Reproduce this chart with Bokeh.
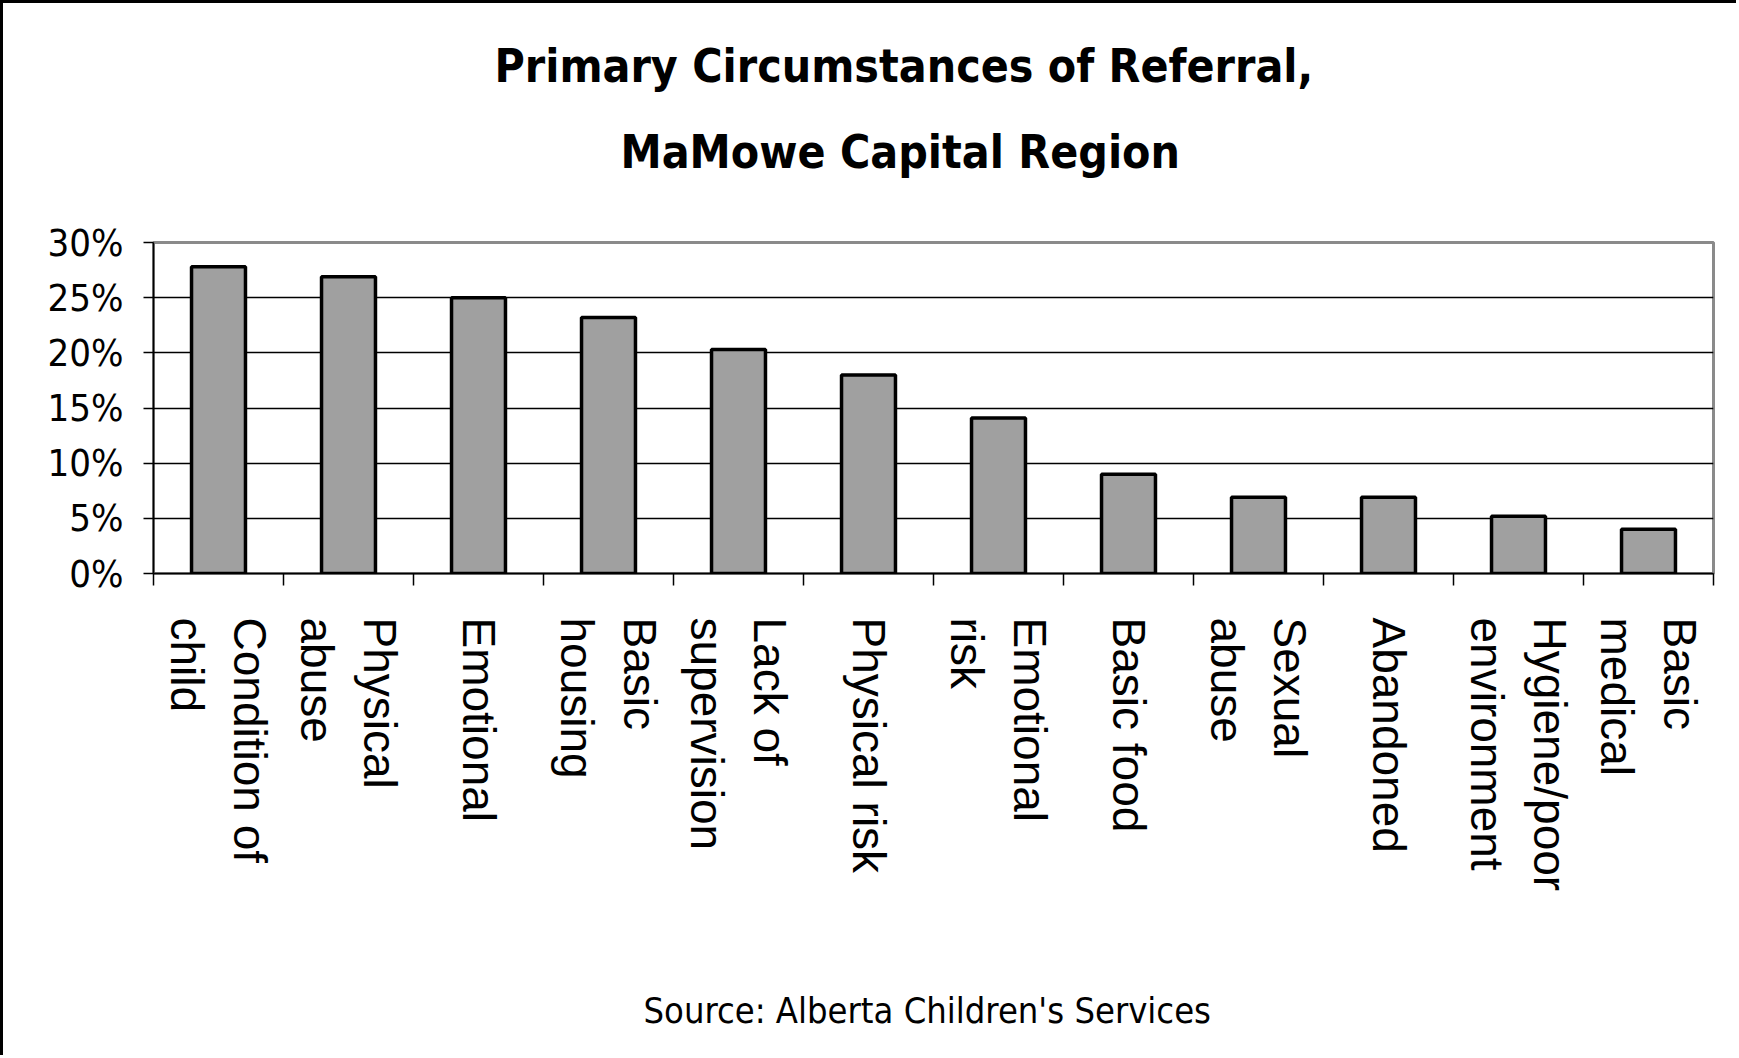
import numpy as np
from bokeh.plotting import figure
from bokeh.models import (Range1d, LinearAxis, FixedTicker, Title, ColumnDataSource)
from bokeh.embed import file_html
from bokeh.resources import INLINE

categories = ["Condition of child", "Physical abuse", "Emotional", "Basic housing",
              "Lack of supervision", "Physical risk", "Emotional risk", "Basic food",
              "Sexual abuse", "Abandoned", "Hygiene/poor environment", "Basic medical"]
tick_labels = ["Condition of\nchild", "Physical\nabuse", "Emotional", "Basic\nhousing",
               "Lack of\nsupervision", "Physical risk", "Emotional\nrisk", "Basic food",
               "Sexual\nabuse", "Abandoned", "Hygiene/poor\nenvironment", "Basic\nmedical"]
values = [27.8, 26.9, 25.0, 23.2, 20.3, 18.0, 14.1, 9.0, 6.9, 6.9, 5.2, 4.0]
y_ticks = [0, 5, 10, 15, 20, 25, 30]
y_tick_labels = ["0%", "5%", "10%", "15%", "20%", "25%", "30%"]
title_lines = ["Primary Circumstances of Referral,", "MaMowe Capital Region"]
source_text = "Source: Alberta Children's Services"

NARROW = ("'Liberation Sans Narrow', 'Arial Narrow', 'Noto Sans Condensed', "
          "'DejaVu Sans Condensed', 'Liberation Sans', sans-serif")
REG = "'Liberation Sans', Arial, sans-serif"

n = len(categories)
slot_edges = list(range(n + 1))
slot_centers = [i + 0.5 for i in range(n)]


def spacer(size):
    # a blank, 1px title used only to reserve space in a side panel
    return Title(text=" ", text_font_size="1px", standoff=size, text_color="white")


p = figure(width=1736, height=1055,
           x_range=Range1d(0, n), y_range=Range1d(0, 30),
           output_backend="svg", toolbar_location=None, x_axis_location=None,
           min_border_left=150, min_border_right=26, min_border_top=239,
           min_border_bottom=485)
p.background_fill_color = "white"
p.border_fill_color = "white"
p.outline_line_color = "#8a8a8a"
p.outline_line_width = 3
p.styles = {"border-left": "3px solid black", "border-top": "3px solid black"}

# above panel, from the frame outward: spacer, second title line, first title line
p.add_layout(spacer(61), "above")
title2 = Title(text=title_lines[1], align="left", offset=467, standoff=0,
               text_font=NARROW, text_font_style="bold", text_font_size="46px",
               text_color="black")
p.add_layout(title2, "above")
p.title.text = title_lines[0]
p.title.align = "left"
p.title.offset = 341
p.title.standoff = 60
p.title.text_font = NARROW
p.title.text_font_style = "bold"
p.title.text_font_size = "46px"
p.title.text_color = "black"

src = ColumnDataSource(dict(x=slot_centers, val=values, cat=categories))
p.vbar(x="x", top="val", width=0.415, source=src, fill_color="#a0a0a0",
       line_color="black", line_width=3.5)

# y axis
ya = p.yaxis[0]
ya.ticker = FixedTicker(ticks=y_ticks)
ya.major_label_overrides = {t: l for t, l in zip(y_ticks, y_tick_labels)}
ya.major_label_text_font = NARROW
ya.major_label_text_font_size = "38px"
ya.major_label_text_color = "black"
ya.major_label_standoff = 20
ya.major_tick_out = 10
ya.major_tick_in = 0
ya.minor_tick_line_color = None
ya.axis_line_color = "black"
ya.axis_line_width = 1.5
ya.major_tick_line_width = 1.5
p.ygrid.grid_line_color = "black"
p.ygrid.grid_line_width = 1.5
p.xgrid.grid_line_color = None

# tick marks between categories
tick_axis = LinearAxis(ticker=FixedTicker(ticks=slot_edges),
                       major_label_text_font_size="0px", major_label_standoff=0,
                       major_tick_out=12, major_tick_in=0, major_tick_line_width=1.5,
                       minor_tick_line_color=None, axis_line_color="black",
                       axis_line_width=1.5)
p.add_layout(tick_axis, "below")

cat_axis = LinearAxis(ticker=FixedTicker(ticks=slot_centers),
                      major_label_overrides={c: l for c, l in zip(slot_centers, tick_labels)},
                      major_tick_line_color=None, minor_tick_line_color=None,
                      axis_line_color=None,
                      major_label_orientation=-np.pi / 2,
                      major_label_text_font=REG,
                      major_label_text_font_size="46px",
                      major_label_text_color="black",
                      major_label_standoff=26)
p.add_layout(cat_axis, "below")

p.add_layout(spacer(90), "below")
src_title = Title(text=source_text, align="left", offset=490, standoff=0,
                  text_font=NARROW, text_font_style="normal", text_font_size="36px",
                  text_color="black")
p.add_layout(src_title, "below")

open("out.html", "w").write(file_html(p, INLINE))
